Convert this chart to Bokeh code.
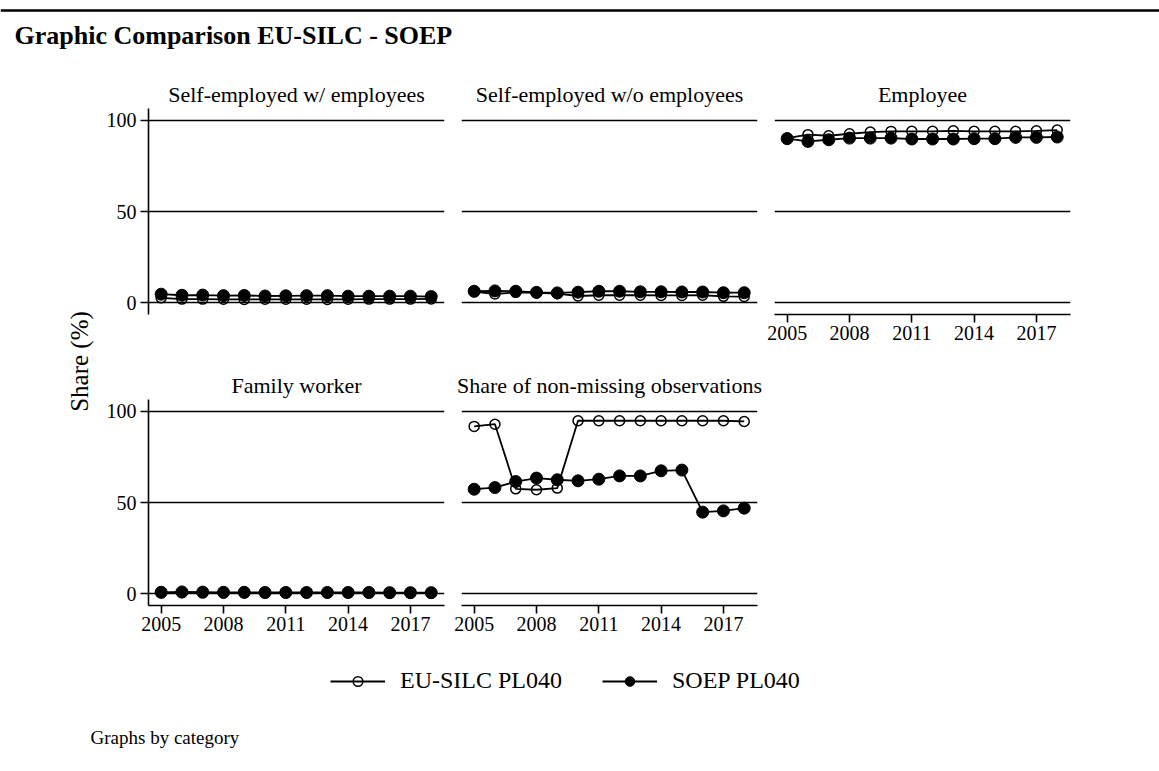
import math
from bokeh.plotting import figure
from bokeh.layouts import column, row
from bokeh.models import Range1d, FixedTicker, Label, Span, Legend, LegendItem
from bokeh.embed import file_html
from bokeh.resources import INLINE

FONT = "Liberation Serif"

years = [2005, 2006, 2007, 2008, 2009, 2010, 2011, 2012, 2013, 2014, 2015, 2016, 2017, 2018]
x_ticks = [2005, 2008, 2011, 2014, 2017]
y_ticks = [0, 50, 100]

series_names = ["EU-SILC PL040", "SOEP PL040"]
panel_titles = ["Self-employed w/ employees", "Self-employed w/o employees", "Employee",
                "Family worker", "Share of non-missing observations"]

eu_selfemp_w = [2.6, 1.9, 1.9, 1.8, 1.7, 1.8, 1.8, 1.8, 1.7, 1.8, 1.9, 1.9, 1.9, 2.0]
soep_selfemp_w = [4.6, 4.0, 4.1, 3.8, 3.9, 3.6, 3.7, 3.8, 3.8, 3.5, 3.5, 3.5, 3.5, 3.3]

eu_selfemp_wo = [6.0, 4.7, 5.6, 5.3, 4.9, 3.6, 4.0, 4.0, 4.0, 3.9, 3.9, 4.0, 3.4, 3.3]
soep_selfemp_wo = [6.2, 6.4, 6.2, 5.6, 5.3, 5.7, 6.2, 6.2, 5.9, 5.9, 5.8, 5.8, 5.4, 5.4]

eu_employee = [90.3, 92.2, 91.6, 92.7, 93.6, 94.0, 94.0, 94.0, 94.3, 94.0, 94.0, 94.0, 94.3, 94.7]
soep_employee = [90.0, 88.5, 89.4, 90.3, 90.3, 90.3, 89.8, 89.8, 89.8, 90.0, 90.0, 90.7, 90.7, 90.9]

eu_family = [0.4, 0.5, 0.4, 0.3, 0.3, 0.3, 0.3, 0.3, 0.3, 0.3, 0.3, 0.2, 0.2, 0.2]
soep_family = [0.7, 0.9, 0.8, 0.7, 0.7, 0.6, 0.6, 0.6, 0.6, 0.6, 0.6, 0.5, 0.5, 0.5]

eu_nonmiss = [91.8, 93.0, 57.5, 57.0, 57.9, 94.9, 94.9, 94.9, 94.9, 94.9, 94.9, 94.9, 94.9, 94.5]
soep_nonmiss = [57.3, 58.2, 61.5, 63.4, 62.5, 61.9, 62.8, 64.6, 64.6, 67.4, 67.8, 44.7, 45.4, 46.9]

X_RANGE = (2004.39, 2018.64)
Y_RANGE = (-6.56, 106.56)
FRAME_W, FRAME_H = 296, 207
PAGE_W = 1151
HEADER_W = 1159
HEADER_H = 77
STRIP_W = 98

EU_STYLE = dict(marker="circle", size=10, line_color="black", line_width=1.5, fill_color=None)
SOEP_STYLE = dict(marker="circle", size=12, line_color="black", fill_color="black")
LINE_STYLE = dict(line_color="black", line_width=1.8)


def blank(width, height):
    p = figure(width=width, height=height, x_range=Range1d(0, width), y_range=Range1d(height, 0),
               x_axis_location=None, y_axis_location=None, min_border=0,
               toolbar_location=None, output_backend="svg")
    p.grid.visible = False
    p.outline_line_color = None
    return p


def panel(title, eu, soep, left_axis, bottom_axis, lb, rb, tb, bb):
    p = figure(width=FRAME_W + lb + rb, height=FRAME_H + tb + bb,
               x_range=Range1d(*X_RANGE), y_range=Range1d(*Y_RANGE),
               x_axis_location="below" if bottom_axis else None,
               y_axis_location="left" if left_axis else None,
               min_border_left=lb, min_border_right=rb, min_border_top=tb, min_border_bottom=bb,
               title=title, toolbar_location=None, output_backend="svg")
    p.outline_line_color = None
    p.title.text_font = FONT
    p.title.text_font_size = "22px"
    p.title.text_font_style = "normal"
    p.title.text_color = "black"
    p.title.align = "center"
    p.title.standoff = 4
    p.xgrid.visible = False
    p.ygrid.ticker = FixedTicker(ticks=y_ticks)
    p.ygrid.grid_line_color = "black"
    p.ygrid.grid_line_width = 1.4
    for ax in p.xaxis:
        ax.ticker = FixedTicker(ticks=x_ticks)
        ax.major_label_standoff = 3
    for ax in p.yaxis:
        ax.ticker = FixedTicker(ticks=y_ticks)
        ax.major_label_standoff = 4
    for ax in p.axis:
        ax.axis_line_color = "black"
        ax.axis_line_width = 1.6
        ax.major_tick_line_color = "black"
        ax.major_tick_line_width = 1.6
        ax.major_tick_out = 8
        ax.major_tick_in = 0
        ax.minor_tick_line_color = None
        ax.major_label_text_font = FONT
        ax.major_label_text_font_size = "20px"
        ax.major_label_text_color = "black"
    p.line(years, eu, **LINE_STYLE)
    p.scatter(years, eu, **EU_STYLE)
    p.line(years, soep, **LINE_STYLE)
    p.scatter(years, soep, **SOEP_STYLE)
    return p


T, B1, B2 = 30, 54, 45
W1, W2 = 50 + FRAME_W + 8, 9 + FRAME_W + 9
p1 = panel(panel_titles[0], eu_selfemp_w, soep_selfemp_w, True, False, 50, 8, T, B1)
p2 = panel(panel_titles[1], eu_selfemp_wo, soep_selfemp_wo, False, False, 9, 9, T, B1)
p3 = panel(panel_titles[2], eu_employee, soep_employee, False, True, 8,
           PAGE_W - STRIP_W - W1 - W2 - 8 - FRAME_W, T, B1)
p4 = panel(panel_titles[3], eu_family, soep_family, True, True, 50, 8, T, B2)
p5 = panel(panel_titles[4], eu_nonmiss, soep_nonmiss, False, True, 9, 9, T, B2)

grid_h = (T + FRAME_H + B1) + (T + FRAME_H + B2)

# header
header = blank(HEADER_W, HEADER_H)
header.add_layout(Span(location=10, dimension="width", line_color="black", line_width=2.5))
header.add_layout(Label(x=14, y=35, text="Graphic Comparison EU-SILC - SOEP", text_font=FONT,
                        text_font_size="26px", text_font_style="bold", text_color="black",
                        text_baseline="alphabetic"))

# left strip with the shared y axis title
strip = blank(STRIP_W, grid_h)
strip.add_layout(Label(x=79, y=361 - HEADER_H, text="Share (%)", angle=math.pi / 2, text_font=FONT,
                       text_font_size="25px", text_color="black", text_align="center",
                       text_baseline="middle"))

# legend + note
leg_h = 113
nan = float("nan")
lg = blank(PAGE_W, leg_h)
r1l = lg.line(x=[nan], y=[nan], **LINE_STYLE)
r1s = lg.scatter(x=[nan], y=[nan], **EU_STYLE)
r2l = lg.line(x=[nan], y=[nan], **LINE_STYLE)
r2s = lg.scatter(x=[nan], y=[nan], **SOEP_STYLE)
legend = Legend(items=[LegendItem(label=series_names[0], renderers=[r1l, r1s]),
                       LegendItem(label=series_names[1], renderers=[r2l, r2s])],
                orientation="horizontal", location=(330, leg_h - 44),
                glyph_width=55, glyph_height=24, label_height=24, label_standoff=15, spacing=40,
                padding=0, margin=0, border_line_color=None, background_fill_alpha=0,
                label_text_font=FONT, label_text_font_size="24px", label_text_color="black")
lg.add_layout(legend)
lg.add_layout(Label(x=90, y=87, text="Graphs by category", text_font=FONT, text_font_size="19px",
                    text_color="black", text_baseline="alphabetic"))

layout = column(header, row(strip, column(row(p1, p2, p3), row(p4, p5))), lg)

open("out.html", "w").write(file_html(layout, INLINE))
